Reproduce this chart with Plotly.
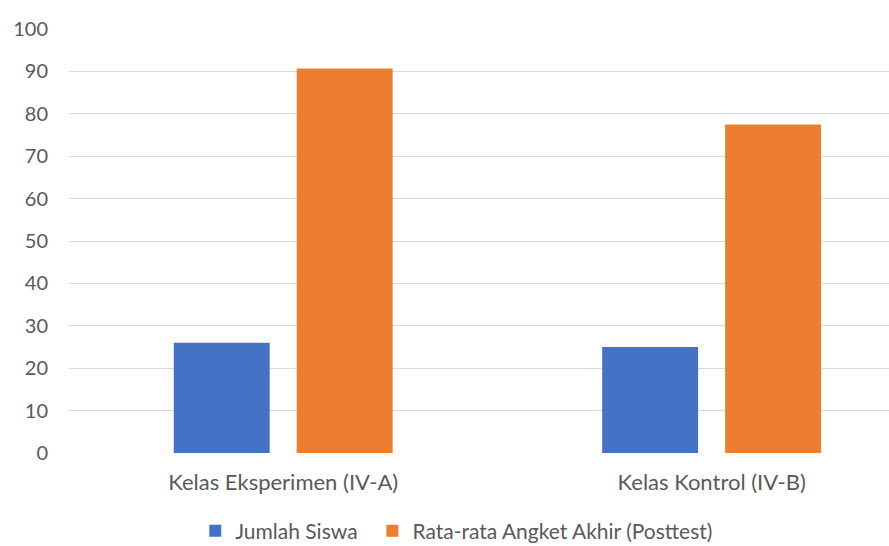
import plotly.graph_objects as go

categories = ["Kelas Eksperimen (IV-A)", "Kelas Kontrol (IV-B)"]
jumlah_siswa = [26, 25]
rata_rata_posttest = [90.7, 77.5]
y_ticks = list(range(0, 101, 10))

FONT = "Lato"
TEXT = "#595959"

fig = go.Figure()
fig.add_trace(go.Bar(
    name="Jumlah Siswa", x=categories, y=jumlah_siswa,
    marker=dict(color="#4472C4", line=dict(width=0)),
    legend="legend",
))
fig.add_trace(go.Bar(
    name="Rata-rata Angket Akhir (Posttest)", x=categories, y=rata_rata_posttest,
    marker=dict(color="#ED7D31", line=dict(width=0)),
    legend="legend2",
))

legend_common = dict(
    orientation="h", xanchor="left", y=-0.184, yanchor="middle",
    font=dict(family=FONT, size=21, color=TEXT), itemwidth=30,
    bgcolor="rgba(0,0,0,0)",
)

fig.update_layout(
    width=889, height=546,
    margin=dict(l=69, r=0, t=29, b=93, autoexpand=False),
    paper_bgcolor="white", plot_bgcolor="white",
    barmode="group", bargap=0.426, bargroupgap=0.22,
    font=dict(family=FONT, size=20, color=TEXT),
    showlegend=True,
    legend=dict(x=0.154, **legend_common),
    legend2=dict(x=0.370, **legend_common),
    xaxis=dict(
        type="category", range=[-0.5, 1.414],
        showgrid=False, showline=False, zeroline=False,
        ticks="", ticklabelstandoff=14,
        tickfont=dict(family=FONT, size=22, color=TEXT),
    ),
    yaxis=dict(
        range=[0, 100], tickvals=y_ticks,
        showgrid=True, gridcolor="#D9D9D9", gridwidth=1.3,
        zeroline=False, showline=False,
        ticks="", ticklabelstandoff=20,
        tickfont=dict(family=FONT, size=20, color=TEXT),
    ),
)

fig.write_html(
    "out.html",
    config={"displayModeBar": False},
    post_script="document.body.style.margin='0';",
)
